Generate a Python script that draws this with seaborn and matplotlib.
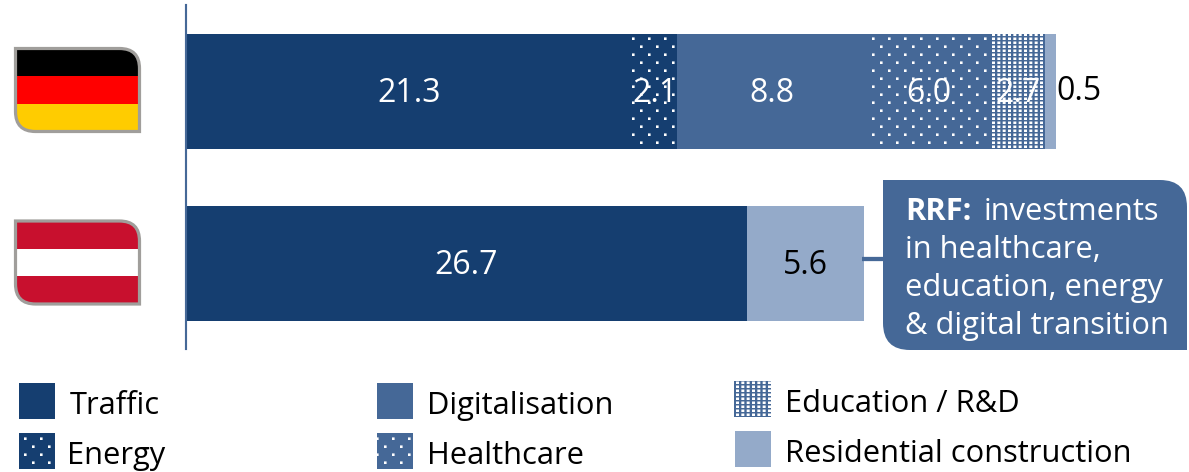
import matplotlib
matplotlib.use("Agg")
import matplotlib.pyplot as plt
import matplotlib.hatch as mhatch
from matplotlib.patches import PathPatch, Rectangle
from matplotlib.path import Path
import pandas as pd
import seaborn as sns

# bar lengths (printed labels are kept apart)
countries = ["Germany", "Austria"]
sectors = ["Traffic", "Energy", "Digitalisation", "Healthcare", "Education / R&D", "Residential construction"]
germany = [21.24, 2.14, 9.05, 5.86, 2.62, 0.52]
austria = [26.7, 0, 0, 0, 0, 5.6]
germany_labels = ["21.3", "2.1", "8.8", "6.0", "2.7", "0.5"]
austria_labels = ["26.7", "", "", "", "", "5.6"]

DARK = "#153e70"
MID = "#456897"
LIGHT = "#94aac9"
colors = [DARK, DARK, MID, MID, MID, LIGHT]
hatches = ["", "a", "", "a", "b", ""]
FONT = "Open Sans"
DPI = 96
TEXT_SIZE = 23.2
VALUE_SIZE = 24


# white pixel dots, matplotlib has no hatch with this spacing
class SparseDots(mhatch.HatchPatternBase):
    filled = True

    def __init__(self, hatch, density):
        self.cols, self.rows, self.w, self.h, self.stagger = 0, 0, 0, 0, False
        if "a" in hatch:
            self.cols, self.rows, self.w, self.h, self.stagger = 6, 12, 2.6 / 96, 2.6 / 96, True
        elif "b" in hatch:
            self.cols, self.rows, self.w, self.h = 18, 24, 3 / 96, 2.5 / 96
        self.num_vertices = self.cols * self.rows * 5

    def set_vertices_and_codes(self, vertices, codes):
        i = 0
        for r in range(self.rows):
            for c in range(self.cols):
                x = (c + (0.5 if self.stagger and r % 2 else 0)) / self.cols
                y = r / self.rows
                vertices[i:i + 5] = [(x, y), (x, y + self.h), (x + self.w, y + self.h), (x + self.w, y), (x, y)]
                codes[i:i + 5] = [Path.MOVETO, Path.LINETO, Path.LINETO, Path.LINETO, Path.CLOSEPOLY]
                i += 5


mhatch._hatch_types.append(SparseDots)

sns.set_theme(style="white")
plt.rcParams["font.family"] = [FONT, "DejaVu Sans"]
plt.rcParams["hatch.color"] = "white"
plt.rcParams["hatch.linewidth"] = 0.0

fig = plt.figure(figsize=(1189 / DPI, 472 / DPI), dpi=DPI)
ax = fig.add_axes([186 / 1189, 1 - 349 / 472, 1003 / 1189, 344 / 472])

# stacked bars: longest running total first, the shorter ones painted on top
df = pd.DataFrame({"Germany": germany, "Austria": austria}, index=sectors)
totals = df.cumsum()
for i in range(len(sectors) - 1, -1, -1):
    sns.barplot(x=totals.iloc[i].values, y=countries, orient="y", color=colors[i],
                width=115 / 172, saturation=1, ax=ax, linewidth=0, hatch=hatches[i] or None)

ax.set_xlim(0, 1003 / 21)
ax.set_ylim(1.5, -0.5)
ax.set_xlabel("")
ax.set_ylabel("")
ax.set_xticks([])
ax.set_yticks([])
for side in ["top", "right", "bottom"]:
    ax.spines[side].set_visible(False)
ax.spines["left"].set_color(MID)
ax.spines["left"].set_linewidth(1.6)

# value labels
starts = totals.shift(1).fillna(0)
for row, labels in enumerate([germany_labels, austria_labels]):
    name = countries[row]
    for i, lab in enumerate(labels):
        if not lab:
            continue
        mid = starts[name].iloc[i] + df[name].iloc[i] / 2
        col = "white" if i < 5 else "black"
        if lab == "0.5":
            ax.text(totals[name].iloc[i] + 0.01, row + 0.005, lab, color=col, fontsize=VALUE_SIZE,
                    ha="left", va="center")
        else:
            ax.text(mid, row + 0.012, lab, color=col, fontsize=VALUE_SIZE, ha="center", va="center")

# everything outside the bars lives on a pixel overlay
over = fig.add_axes([0, 0, 1, 1], facecolor="none")
over.set_xlim(0, 1189)
over.set_ylim(472, 0)
over.axis("off")


def diag_round(x0, y0, x1, y1, r):
    # rectangle with top right and bottom left corners rounded
    verts = [(x0, y0), (x1 - r, y0), (x1, y0), (x1, y0 + r), (x1, y1), (x0 + r, y1),
             (x0, y1), (x0, y1 - r), (x0, y0)]
    codes = [Path.MOVETO, Path.LINETO, Path.CURVE3, Path.CURVE3, Path.LINETO, Path.LINETO,
             Path.CURVE3, Path.CURVE3, Path.CLOSEPOLY]
    return Path(verts, codes)


def flag(y0, stripes):
    outline = PathPatch(diag_round(15.5, y0, 139.5, y0 + 83, 20), facecolor="none",
                        edgecolor="#a09e9b", linewidth=2.4, zorder=3)
    over.add_patch(outline)
    for k, c in enumerate(stripes):
        band = Rectangle((15.5, y0 + k * 83 / 3), 124, 83 / 3, facecolor=c, edgecolor="none", zorder=2)
        over.add_patch(band)
        band.set_clip_path(outline)


flag(48.5, ["#000000", "#ff0000", "#ffcc00"])
flag(221, ["#c8102e", "#ffffff", "#c8102e"])

# callout
over.plot([862, 884], [258.5, 258.5], color=MID, linewidth=3.2, solid_capstyle="butt", zorder=2)
over.add_patch(PathPatch(diag_round(883, 180, 1187, 350, 27), facecolor=MID, edgecolor="none", zorder=3))
over.text(905, 212, "RRF:", color="white", fontsize=TEXT_SIZE, fontweight="bold", va="center", zorder=4)
over.text(984, 212, "investments", color="white", fontsize=TEXT_SIZE, va="center", zorder=4)
over.text(905, 250, "in healthcare,", color="white", fontsize=TEXT_SIZE, va="center", zorder=4)
over.text(905, 288, "education, energy", color="white", fontsize=TEXT_SIZE, va="center", zorder=4)
over.text(905, 326, "& digital transition", color="white", fontsize=TEXT_SIZE, va="center", zorder=4)

# legend, columns are not quite aligned in the original
swatch_x = [19, 19, 377, 377, 734, 735]
swatch_y = [383, 433, 383, 433, 381, 431]
swatch_w = [36, 36, 36, 36, 37, 36]
text_x = [70, 67, 427, 427, 785, 785]
text_y = [406, 456, 406, 456, 404, 454]
for i, name in enumerate(sectors):
    over.add_patch(Rectangle((swatch_x[i], swatch_y[i]), swatch_w[i], 36, facecolor=colors[i],
                             edgecolor="white", linewidth=0, hatch=hatches[i] or None))
    over.text(text_x[i], text_y[i], name, color="black", fontsize=TEXT_SIZE, va="center")

fig.savefig("out.png", dpi=DPI, facecolor="white")
